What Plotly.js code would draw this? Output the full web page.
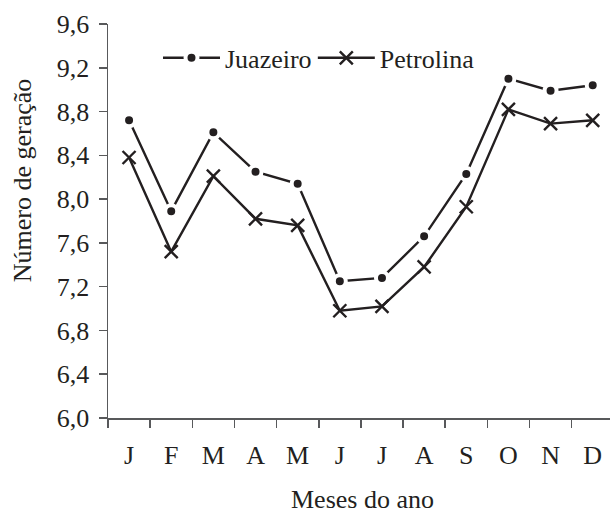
<!DOCTYPE html>
<html>
<head>
<meta charset="utf-8">
<script src="https://cdn.plot.ly/plotly-3.0.1.min.js"></script>
<style>html,body{margin:0;padding:0;background:#fff;}</style>
</head>
<body>
<div id="chart" style="width:610px;height:516px;"></div>
<script>
// Month keys (unique) and the letters shown on the axis
const monthKeys = ['Jan','Fev','Mar','Abr','Mai','Jun','Jul','Ago','Set','Out','Nov','Dez'];
const monthLabels = ['J','F','M','A','M','J','J','A','S','O','N','D'];

// Número de geração por mês
const juazeiro  = [8.72, 7.89, 8.61, 8.25, 8.14, 7.25, 7.28, 7.66, 8.23, 9.10, 8.99, 9.04];
const petrolina = [8.38, 7.52, 8.21, 7.82, 7.76, 6.98, 7.02, 7.38, 7.93, 8.82, 8.69, 8.72];

const yTicks = [6.0, 6.4, 6.8, 7.2, 7.6, 8.0, 8.4, 8.8, 9.2, 9.6];

const ink = '#231f20';
const axisCol = '#58595b';
const font = 'Liberation Serif, Times New Roman, serif';
const fs = 26;

const traces = [
  {
    x: monthKeys, y: juazeiro, name: 'Juazeiro', type: 'scatter', mode: 'lines+markers',
    line: {color: ink, width: 2.4},
    marker: {symbol: 'circle', size: 12, color: ink, line: {color: '#ffffff', width: 4}},
    cliponaxis: false, legend: 'legend'
  },
  {
    x: monthKeys, y: petrolina, name: 'Petrolina', type: 'scatter', mode: 'lines+markers',
    line: {color: ink, width: 2.4},
    marker: {symbol: 'x-thin', size: 13, color: ink, line: {color: ink, width: 2.4}},
    cliponaxis: false, legend: 'legend2'
  }
];

const legendBase = {
  orientation: 'h', y: 0.914, xanchor: 'left', yanchor: 'middle',
  bgcolor: 'rgba(0,0,0,0)', font: {family: font, size: fs, color: ink},
  itemwidth: 57
};

const layout = {
  width: 610, height: 516,
  margin: {l: 108, r: 0, t: 24, b: 98},
  paper_bgcolor: '#fff', plot_bgcolor: '#fff',
  separators: ',.',
  font: {family: font, size: fs, color: ink},
  showlegend: true,
  legend: Object.assign({}, legendBase, {x: 0.0996}),
  legend2: Object.assign({}, legendBase, {x: 0.408}),
  xaxis: {
    type: 'category', automargin: false,
    range: [-0.5, 11.41],
    tickmode: 'array', tickvals: monthKeys, ticktext: monthLabels,
    tickson: 'boundaries',
    ticks: 'outside', ticklen: 8, tickwidth: 1.5, tickcolor: axisCol,
    ticklabelstandoff: 13,
    showline: true, linecolor: axisCol, linewidth: 1.5,
    showgrid: false, zeroline: false,
    tickfont: {family: font, size: fs, color: ink}
  },
  yaxis: {
    range: [6.0, 9.6], automargin: false,
    tickmode: 'array', tickvals: yTicks,
    tickformat: '.1f',
    ticks: 'outside', ticklen: 8, tickwidth: 1.5, tickcolor: axisCol,
    ticklabelstandoff: 4,
    showline: true, linecolor: axisCol, linewidth: 1.5,
    showgrid: false, zeroline: false,
    tickfont: {family: font, size: fs, color: ink}
  },
  annotations: [
    {
      text: 'Número de geração', textangle: -90,
      xref: 'paper', yref: 'paper', x: -0.171, y: 0.604,
      xanchor: 'center', yanchor: 'middle', showarrow: false,
      font: {family: font, size: fs, color: ink}
    },
    {
      text: 'Meses do ano',
      xref: 'paper', yref: 'paper', x: 0.506, y: -0.206,
      xanchor: 'center', yanchor: 'middle', showarrow: false,
      font: {family: font, size: fs, color: ink}
    }
  ]
};

Plotly.newPlot('chart', traces, layout, {displayModeBar: false, staticPlot: true});
</script>
</body>
</html>
